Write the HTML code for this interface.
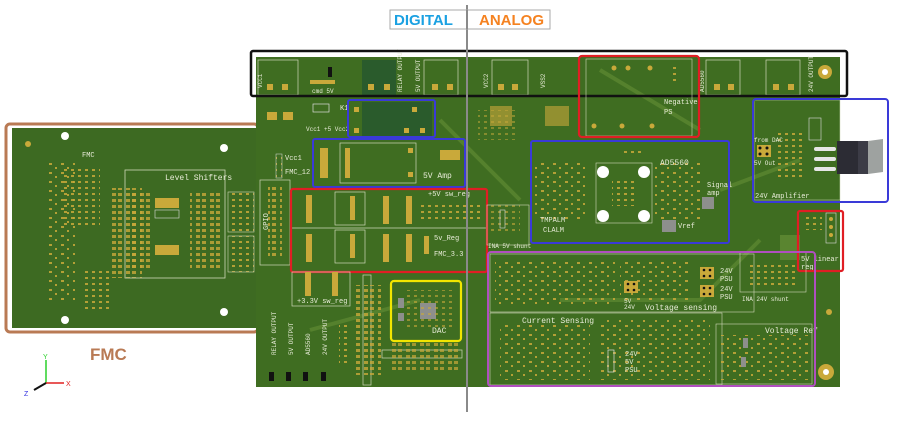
<!DOCTYPE html>
<html><head><meta charset="utf-8"><style>
html,body{margin:0;padding:0;background:#fff;width:900px;height:423px;overflow:hidden}
svg{display:block}
text{font-family:"Liberation Mono",monospace;fill:#e8ecd8}
</style></head><body>
<svg width="900" height="423" viewBox="0 0 900 423" xmlns="http://www.w3.org/2000/svg">
<defs>
<pattern id="pads" width="12" height="9" patternUnits="userSpaceOnUse">
<rect x="1" y="1" width="3" height="2" fill="#c9a93a" opacity="0.85"/><rect x="7" y="5" width="2" height="2" fill="#c9a93a" opacity="0.85"/>
</pattern>
<pattern id="pads2" width="7" height="6" patternUnits="userSpaceOnUse">
<rect x="1" y="1" width="3" height="2" fill="#c9a93a" opacity="0.85"/>
</pattern>
<pattern id="rows" width="14" height="6" patternUnits="userSpaceOnUse">
<rect x="0" y="1" width="4" height="3" fill="#c9a93a"/><rect x="6" y="1" width="4" height="3" fill="#c9a93a"/>
</pattern>
</defs>

<!-- FMC board -->
<rect x="6" y="124" width="252" height="208" rx="4" fill="none" stroke="#b97a54" stroke-width="3"/>
<rect x="12" y="128" width="246" height="200" fill="#3d6a22"/>
<rect x="45" y="160" width="30" height="140" fill="url(#pads)"/>
<rect x="60" y="168" width="40" height="60" fill="url(#pads2)"/>
<rect x="112" y="188" width="30" height="90" fill="url(#rows)" opacity="0.8"/>
<rect x="125" y="170" width="100" height="108" fill="none" stroke="#cfd8b8" stroke-width="0.8"/>
<text x="165" y="180" font-size="8">Level Shifters</text>
<rect x="132" y="190" width="20" height="80" fill="url(#rows)" opacity="0.8"/>
<rect x="155" y="198" width="24" height="10" fill="#c9a93a"/>
<rect x="155" y="210" width="24" height="8" fill="none" stroke="#ddd" stroke-width="0.6"/>
<rect x="155" y="245" width="24" height="10" fill="#c9a93a"/>
<rect x="190" y="190" width="30" height="80" fill="url(#rows)" opacity="0.8"/>
<rect x="228" y="192" width="26" height="40" fill="url(#pads2)" stroke="#cfd8b8" stroke-width="0.6"/>
<rect x="228" y="236" width="26" height="36" fill="url(#pads2)" stroke="#cfd8b8" stroke-width="0.6"/>
<rect x="82" y="270" width="30" height="40" fill="url(#pads2)"/>
<text x="82" y="157" font-size="7">FMC</text>
<circle cx="65" cy="136" r="4" fill="#fff"/><circle cx="224" cy="148" r="4" fill="#fff"/>
<circle cx="224" cy="312" r="4" fill="#fff"/><circle cx="65" cy="320" r="4" fill="#fff"/>
<circle cx="28" cy="144" r="3" fill="#c9a93a"/>
<text x="90" y="360" font-size="17" font-weight="bold" style="fill:#b97a54;font-family:'Liberation Sans',sans-serif">FMC</text>
<!-- axes -->
<line x1="46" y1="383" x2="46" y2="360" stroke="#2bd12b" stroke-width="1.5"/>
<text x="43" y="359" font-size="7" style="fill:#2bd12b;font-family:'Liberation Sans'">Y</text>
<line x1="46" y1="383" x2="64" y2="383" stroke="#e02020" stroke-width="1.5"/>
<text x="66" y="386" font-size="7" style="fill:#e02020;font-family:'Liberation Sans'">X</text>
<line x1="46" y1="383" x2="34" y2="390" stroke="#111" stroke-width="2"/>
<text x="24" y="396" font-size="7" style="fill:#3030e0;font-family:'Liberation Sans'">Z</text>

<!-- main board -->
<rect x="256" y="57" width="584" height="330" fill="#3f6d21"/>
<path d="M440 120 L480 160 L520 200 M600 70 L700 130 M560 300 L700 300 L760 240 M310 330 L420 300 M720 190 L800 160" stroke="#55812d" stroke-width="4" fill="none"/>
<rect x="780" y="235" width="20" height="25" fill="#5a8530"/>
<!-- top connectors row -->
<rect x="258" y="60" width="40" height="35" fill="none" stroke="#cfd8b8" stroke-width="0.7"/>
<rect x="362" y="60" width="34" height="35" fill="#2a5b2c"/>
<rect x="424" y="60" width="34" height="35" fill="none" stroke="#cfd8b8" stroke-width="0.7"/>
<rect x="492" y="60" width="36" height="35" fill="none" stroke="#cfd8b8" stroke-width="0.7"/>
<rect x="706" y="60" width="34" height="35" fill="none" stroke="#cfd8b8" stroke-width="0.7"/>
<rect x="766" y="60" width="34" height="35" fill="none" stroke="#cfd8b8" stroke-width="0.7"/>
<g fill="#c9a93a">
<rect x="267" y="84" width="6" height="6"/><rect x="282" y="84" width="6" height="6"/>
<rect x="368" y="84" width="6" height="6"/><rect x="384" y="84" width="6" height="6"/>
<rect x="432" y="84" width="6" height="6"/><rect x="447" y="84" width="6" height="6"/>
<rect x="498" y="84" width="6" height="6"/><rect x="512" y="84" width="6" height="6"/>
<rect x="714" y="84" width="6" height="6"/><rect x="728" y="84" width="6" height="6"/>
<rect x="773" y="84" width="6" height="6"/><rect x="788" y="84" width="6" height="6"/>
<rect x="310" y="80" width="25" height="4"/>
</g>
<rect x="328" y="67" width="4" height="10" fill="#111"/>
<circle cx="825" cy="72" r="7" fill="#c9a93a"/><circle cx="825" cy="72" r="3" fill="#fff"/>
<g font-size="6">
<text x="262" y="88" transform="rotate(-90 262 88)">VCC1</text>
<text x="312" y="93">cmd 5V</text>
<text x="402" y="92" transform="rotate(-90 402 92)">RELAY OUTPUT</text>
<text x="420" y="92" transform="rotate(-90 420 92)">5V OUTPUT</text>
<text x="488" y="88" transform="rotate(-90 488 88)">VCC2</text>
<text x="545" y="88" transform="rotate(-90 545 88)">VSS2</text>
<text x="704" y="92" transform="rotate(-90 704 92)">AD5560</text>
<text x="813" y="92" transform="rotate(-90 813 92)">24V OUTPUT</text>
</g>
<rect x="251" y="51" width="596" height="45" rx="2" fill="none" stroke="#111" stroke-width="2.5"/>

<!-- K1 relay -->
<rect x="362" y="102" width="70" height="34" fill="#2a5b2c"/>
<rect x="313" y="104" width="16" height="8" fill="none" stroke="#ddd" stroke-width="0.7"/>
<text x="306" y="131" font-size="6">Vcc1 +5 Vcc2</text>
<text x="340" y="110" font-size="7">K1</text>
<g fill="#c9a93a"><rect x="354" y="107" width="5" height="5"/><rect x="412" y="107" width="5" height="5"/><rect x="354" y="128" width="5" height="5"/><rect x="404" y="128" width="5" height="5"/><rect x="420" y="128" width="5" height="5"/>
<rect x="267" y="112" width="10" height="8"/><rect x="283" y="112" width="10" height="8"/>
<rect x="490" y="106" width="22" height="20" opacity="0.6"/><rect x="545" y="106" width="24" height="20" opacity="0.6"/></g>
<rect x="348" y="100" width="87" height="37" rx="2" fill="none" stroke="#3a3ad8" stroke-width="2"/>

<!-- left mid -->
<text x="285" y="160" font-size="7">Vcc1</text>
<text x="285" y="174" font-size="7">FMC_12</text>
<rect x="276" y="154" width="6" height="24" fill="url(#pads2)" stroke="#ddd" stroke-width="0.5"/>
<rect x="260" y="180" width="30" height="85" fill="none" stroke="#cfd8b8" stroke-width="0.7"/>
<rect x="268" y="186" width="14" height="72" fill="url(#rows)" opacity="0.8"/>
<text x="268" y="230" font-size="7" transform="rotate(-90 268 230)">GPIO</text>

<!-- 5V amp -->
<rect x="340" y="143" width="76" height="40" fill="none" stroke="#cfd8b8" stroke-width="0.7"/>
<g fill="#c9a93a"><rect x="345" y="148" width="5" height="30"/><rect x="320" y="148" width="8" height="30"/><rect x="440" y="150" width="20" height="10"/><rect x="408" y="148" width="5" height="5"/><rect x="408" y="172" width="5" height="5"/></g>
<text x="423" y="178" font-size="8">5V Amp</text>
<rect x="313" y="139" width="152" height="48" rx="2" fill="none" stroke="#3a3ad8" stroke-width="2"/>

<!-- sw reg red box -->
<line x1="292" y1="228" x2="487" y2="228" stroke="#cfd8b8" stroke-width="0.8"/>
<rect x="335" y="192" width="30" height="33" fill="none" stroke="#cfd8b8" stroke-width="0.7"/>
<rect x="335" y="230" width="30" height="33" fill="none" stroke="#cfd8b8" stroke-width="0.7"/>
<g fill="#c9a93a">
<rect x="306" y="195" width="6" height="28"/><rect x="306" y="234" width="6" height="28"/>
<rect x="350" y="196" width="5" height="24"/><rect x="350" y="234" width="5" height="24"/>
<rect x="383" y="196" width="6" height="28"/><rect x="406" y="196" width="6" height="28"/>
<rect x="383" y="234" width="6" height="28"/><rect x="406" y="234" width="6" height="28"/>
<rect x="424" y="236" width="5" height="18"/>
</g>
<rect x="420" y="205" width="60" height="14" fill="url(#pads2)"/>
<text x="428" y="196" font-size="7">+5V sw_reg</text>
<text x="434" y="240" font-size="7">5v_Reg</text>
<text x="434" y="256" font-size="7">FMC_3.3</text>
<rect x="291" y="189" width="196" height="83" rx="2" fill="none" stroke="#e01e24" stroke-width="2.2"/>

<!-- 3.3 reg -->
<rect x="292" y="272" width="58" height="34" fill="none" stroke="#cfd8b8" stroke-width="0.7"/>
<g fill="#c9a93a"><rect x="305" y="272" width="6" height="24"/><rect x="332" y="272" width="6" height="24"/></g>
<text x="297" y="303" font-size="7">+3.3V sw_reg</text>
<rect x="363" y="275" width="8" height="110" fill="none" stroke="#cfd8b8" stroke-width="0.7"/>
<rect x="355" y="285" width="26" height="90" fill="url(#rows)" opacity="0.8"/>
<rect x="339" y="325" width="10" height="40" fill="url(#pads2)"/>
<g font-size="6">
<text x="276" y="355" transform="rotate(-90 276 355)">RELAY OUTPUT</text>
<text x="293" y="355" transform="rotate(-90 293 355)">5V OUTPUT</text>
<text x="310" y="355" transform="rotate(-90 310 355)">AD5560</text>
<text x="327" y="355" transform="rotate(-90 327 355)">24V OUTPUT</text>
</g>
<g fill="#111"><rect x="269" y="372" width="5" height="9"/><rect x="286" y="372" width="5" height="9"/><rect x="303" y="372" width="5" height="9"/><rect x="321" y="372" width="5" height="9"/></g>
<rect x="382" y="350" width="80" height="8" fill="none" stroke="#cfd8b8" stroke-width="0.7"/>
<rect x="388" y="340" width="72" height="32" fill="url(#rows)" opacity="0.7"/>

<!-- DAC -->
<rect x="420" y="303" width="16" height="16" fill="#8d8f8c"/>
<rect x="398" y="298" width="6" height="10" fill="#8d8f8c"/><rect x="398" y="313" width="6" height="8" fill="#8d8f8c"/>
<rect x="405" y="290" width="50" height="40" fill="url(#pads2)" opacity="0.7"/>
<text x="432" y="333" font-size="8">DAC</text>
<rect x="391" y="281" width="70" height="60" rx="3" fill="none" stroke="#f2e600" stroke-width="2.2"/>

<!-- analog upper -->
<rect x="478" y="110" width="40" height="30" fill="url(#pads2)" opacity="0.6"/>
<rect x="490" y="205" width="30" height="30" fill="url(#pads2)" opacity="0.7"/>
<rect x="500" y="210" width="5" height="18" fill="none" stroke="#ddd" stroke-width="0.6"/>
<text x="488" y="248" font-size="6">INA 5V shunt</text>
<rect x="487" y="205" width="42" height="40" fill="none" stroke="#cfd8b8" stroke-width="0.6"/>

<!-- negative PS -->
<rect x="586" y="59" width="106" height="77" fill="none" stroke="#cfd8b8" stroke-width="0.6"/>
<g fill="#c9a93a"><circle cx="614" cy="68" r="2.5"/><circle cx="628" cy="68" r="2.5"/><circle cx="650" cy="68" r="2.5"/><circle cx="594" cy="126" r="2.5"/><circle cx="622" cy="126" r="2.5"/><circle cx="652" cy="126" r="2.5"/></g>
<rect x="670" y="65" width="10" height="20" fill="url(#pads2)"/>
<text x="664" y="104" font-size="7">Negative</text>
<text x="664" y="114" font-size="7">PS</text>
<rect x="579" y="56" width="120" height="81" rx="3" fill="none" stroke="#e01e24" stroke-width="2.2"/>

<!-- AD5560 -->
<rect x="596" y="163" width="56" height="60" fill="none" stroke="#cfd8b8" stroke-width="0.6"/>
<rect x="612" y="178" width="26" height="28" fill="url(#pads2)"/>
<circle cx="603" cy="172" r="6" fill="#fff"/><circle cx="644" cy="172" r="6" fill="#fff"/>
<circle cx="603" cy="216" r="6" fill="#fff"/><circle cx="644" cy="216" r="6" fill="#fff"/>
<rect x="535" y="160" width="50" height="60" fill="url(#pads)"/>
<rect x="655" y="160" width="45" height="60" fill="url(#pads)"/>
<rect x="624" y="147" width="20" height="8" fill="url(#pads2)"/>
<rect x="702" y="197" width="12" height="12" fill="#8d8f8c"/>
<rect x="662" y="220" width="14" height="12" fill="#8d8f8c"/>
<text x="660" y="165" font-size="8">AD5560</text>
<text x="707" y="187" font-size="7">Signal</text>
<text x="707" y="195" font-size="7">amp</text>
<text x="678" y="228" font-size="7">Vref</text>
<text x="540" y="222" font-size="7">TMPALM</text>
<text x="543" y="232" font-size="7">CLALM</text>
<rect x="531" y="141" width="198" height="102" rx="2" fill="none" stroke="#3a3ad8" stroke-width="2"/>

<!-- 24V amplifier -->
<rect x="754" y="100" width="86" height="100" fill="none" stroke="#cfd8b8" stroke-width="0.5"/>
<rect x="809" y="118" width="12" height="22" fill="none" stroke="#ddd" stroke-width="0.6"/>
<rect x="757" y="145" width="14" height="12" fill="#c9a93a"/>
<circle cx="760" cy="148" r="1.5" fill="#111"/><circle cx="767" cy="148" r="1.5" fill="#111"/><circle cx="760" cy="154" r="1.5" fill="#111"/><circle cx="767" cy="154" r="1.5" fill="#111"/>
<rect x="775" y="130" width="30" height="50" fill="url(#pads2)"/>
<text x="754" y="142" font-size="6">from DAC</text>
<text x="754" y="165" font-size="6">5V Out</text>
<text x="755" y="198" font-size="7">24V Amplifier</text>
<rect x="814" y="147" width="22" height="4" rx="2" fill="#e6e6e6"/>
<rect x="814" y="157" width="22" height="4" rx="2" fill="#e6e6e6"/>
<rect x="814" y="167" width="22" height="4" rx="2" fill="#e6e6e6"/>
<rect x="837" y="141" width="31" height="33" fill="#2c2c34"/>
<rect x="858" y="141" width="10" height="33" fill="#3c3c46"/>
<polygon points="868,141 883,139 883,172 868,174" fill="#9ea2a0"/>
<rect x="753" y="99" width="135" height="103" rx="3" fill="none" stroke="#3a3ad8" stroke-width="2"/>

<!-- 5V linear reg -->
<rect x="826" y="213" width="10" height="30" fill="none" stroke="#ddd" stroke-width="0.6"/>
<g fill="#c9a93a"><circle cx="831" cy="219" r="2"/><circle cx="831" cy="227" r="2"/><circle cx="831" cy="235" r="2"/></g>
<rect x="802" y="216" width="20" height="14" fill="url(#pads2)"/>
<text x="801" y="261" font-size="7">5V linear</text>
<text x="801" y="269" font-size="7">reg</text>
<rect x="798" y="211" width="45" height="60" rx="2" fill="none" stroke="#e01e24" stroke-width="2.2"/>

<!-- purple region -->
<rect x="490" y="254" width="264" height="58" fill="none" stroke="#cfd8b8" stroke-width="0.6"/>
<rect x="490" y="313" width="232" height="72" fill="none" stroke="#cfd8b8" stroke-width="0.6"/>
<rect x="716" y="324" width="96" height="60" fill="none" stroke="#cfd8b8" stroke-width="0.6"/>
<rect x="740" y="252" width="66" height="40" fill="none" stroke="#cfd8b8" stroke-width="0.6"/>
<rect x="495" y="262" width="120" height="45" fill="url(#pads)"/>
<rect x="620" y="262" width="70" height="40" fill="url(#pads)"/>
<rect x="500" y="325" width="90" height="55" fill="url(#pads)"/>
<rect x="600" y="320" width="110" height="60" fill="url(#pads)"/>
<rect x="720" y="335" width="90" height="45" fill="url(#pads)"/>
<rect x="750" y="262" width="45" height="25" fill="url(#pads2)"/>
<g fill="#c9a93a"><rect x="700" y="267" width="14" height="12"/><rect x="700" y="285" width="14" height="12"/><rect x="624" y="281" width="14" height="12"/></g>
<g fill="#111"><circle cx="704" cy="270" r="1.3"/><circle cx="710" cy="270" r="1.3"/><circle cx="704" cy="276" r="1.3"/><circle cx="710" cy="276" r="1.3"/><circle cx="704" cy="288" r="1.3"/><circle cx="710" cy="288" r="1.3"/><circle cx="704" cy="294" r="1.3"/><circle cx="710" cy="294" r="1.3"/><circle cx="628" cy="284" r="1.3"/><circle cx="634" cy="284" r="1.3"/><circle cx="628" cy="290" r="1.3"/><circle cx="634" cy="290" r="1.3"/></g>
<rect x="608" y="350" width="6" height="22" fill="none" stroke="#ddd" stroke-width="0.7"/>
<rect x="743" y="338" width="5" height="10" fill="#8d8f8c"/><rect x="741" y="357" width="5" height="10" fill="#8d8f8c"/>
<text x="720" y="273" font-size="7">24V</text><text x="720" y="281" font-size="7">PSU</text>
<text x="720" y="291" font-size="7">24V</text><text x="720" y="299" font-size="7">PSU</text>
<text x="624" y="303" font-size="6">5V</text><text x="624" y="309" font-size="6">24V</text>
<text x="645" y="310" font-size="8">Voltage sensing</text>
<text x="522" y="323" font-size="8">Current Sensing</text>
<text x="625" y="356" font-size="7">24V</text><text x="625" y="364" font-size="7">5V</text><text x="625" y="372" font-size="7">PSU</text>
<text x="765" y="333" font-size="8">Voltage Ref</text>
<text x="742" y="301" font-size="6">INA 24V shunt</text>
<rect x="488" y="252" width="327" height="134" rx="3" fill="none" stroke="#b04fbf" stroke-width="2"/>
<circle cx="829" cy="312" r="3" fill="#c9a93a"/>
<circle cx="826" cy="372" r="8" fill="#c9a93a"/><circle cx="826" cy="372" r="3" fill="#fff"/>

<!-- label and divider -->
<line x1="467" y1="5" x2="467" y2="412" stroke="#8a8a8a" stroke-width="2"/>
<rect x="390" y="10" width="160" height="19" fill="#fff" stroke="#aaa" stroke-width="1"/>
<line x1="467" y1="10" x2="467" y2="29" stroke="#8a8a8a" stroke-width="2"/>
<text x="394" y="25" font-size="15" font-weight="bold" style="fill:#1ba1e2;font-family:'Liberation Sans',sans-serif">DIGITAL</text>
<text x="479" y="25" font-size="15" font-weight="bold" style="fill:#f58220;font-family:'Liberation Sans',sans-serif">ANALOG</text>
</svg>
</body></html>
